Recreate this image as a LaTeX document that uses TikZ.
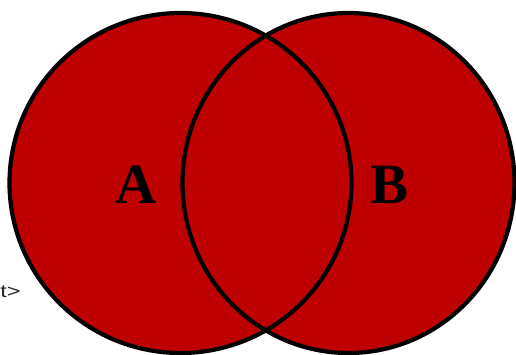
\documentclass[tikz,border=0pt]{standalone}
\usepackage{fontspec}
\setmainfont{Liberation Serif}
\newfontfamily\smallsans{Liberation Sans}
\definecolor{vennred}{RGB}{190,0,2}
\begin{document}
\begin{tikzpicture}[x=1pt,y=1pt,
  setoutline/.style={draw=black, line width=4.2pt},
  setlabel/.style={font=\fontsize{57}{57}\selectfont\bfseries, text=black, inner sep=0pt}]
\useasboundingbox (0,0) rectangle (516,354);
% fills
\fill[vennred] (180.5,171) ellipse [x radius=171, y radius=170];
\fill[vennred] (348.5,171) ellipse [x radius=166, y radius=170];
% outlines
\draw[setoutline] (180.5,171) ellipse [x radius=171, y radius=170];
\draw[setoutline] (348.5,171) ellipse [x radius=166, y radius=170];
\node[setlabel] (A) at (136,169) {A};
\node[setlabel] (B) at (390,169) {B};
\node[anchor=base west, inner sep=0pt, text=black!85, xscale=1.3] (t) at (0,57) {\fontsize{18}{18}\selectfont\smallsans t>};
\end{tikzpicture}
\end{document}
